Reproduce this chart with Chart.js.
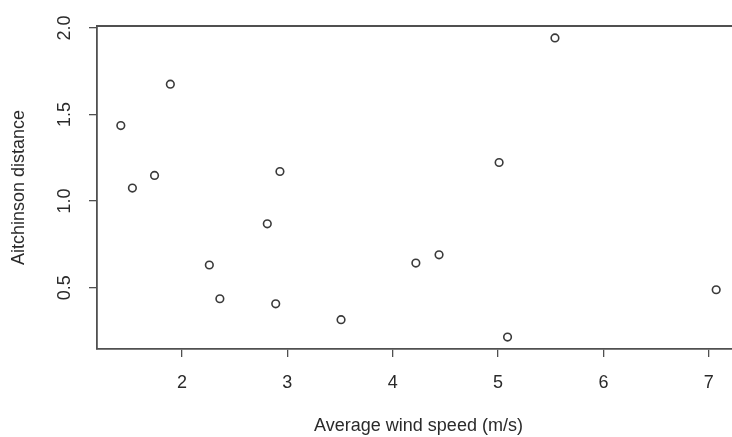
<!DOCTYPE html>
<html>
<head>
<meta charset="utf-8">
<script src="https://cdn.jsdelivr.net/npm/chart.js@4.4.1/dist/chart.umd.min.js"></script>
<style>
  html, body { margin: 0; padding: 0; background: #fff; overflow: hidden; }
  #clip { width: 732px; height: 437px; overflow: hidden; position: relative; }
  #wrap { width: 750px; height: 437px; position: absolute; left: 0; top: 0; }
</style>
</head>
<body>
<div id="clip"><div id="wrap"><canvas id="c"></canvas></div></div>
<script>
// Data
const windSpeed = [1.42, 1.53, 1.74, 1.89, 2.26, 2.36, 2.81, 2.93, 2.89, 3.51, 4.22, 4.44, 5.01, 5.09, 5.54, 7.07];
const aitchison = [1.436, 1.075, 1.148, 1.675, 0.631, 0.436, 0.869, 1.171, 0.407, 0.315, 0.642, 0.69, 1.223, 0.215, 1.942, 0.488];
const xTicks = [2, 3, 4, 5, 6, 7];
const yTicks = [0.5, 1.0, 1.5, 2.0];
const xTitle = 'Average wind speed (m/s)';
const yTitle = 'Aitchinson distance';

// R-style axis limits: data range extended by 4% on each side
function rLim(arr) {
  const lo = Math.min(...arr), hi = Math.max(...arr), d = (hi - lo) * 0.04;
  return [lo - d, hi + d];
}
const [xMin, xMax] = rLim(windSpeed);
const [yMin, yMax] = rLim(aitchison);

const points = windSpeed.map((x, i) => ({ x: x, y: aitchison[i] }));

const FONT = { family: '"Liberation Sans", Arial, Helvetica, sans-serif', size: 18 };
const AXIS = '#505050';
const TEXT = '#2a2a2a';

const topLine = {
  id: 'topLine',
  afterDraw(chart) {
    const { ctx, chartArea: a } = chart;
    ctx.save();
    ctx.strokeStyle = AXIS;
    ctx.lineWidth = 1.8;
    ctx.beginPath();
    ctx.moveTo(a.left, a.top);
    ctx.lineTo(a.right + 2, a.top);
    ctx.stroke();
    ctx.restore();
  }
};

new Chart(document.getElementById('c'), {
  type: 'scatter',
  data: {
    datasets: [{
      data: points,
      pointStyle: 'circle',
      pointRadius: 3.8,
      pointHoverRadius: 3.8,
      borderWidth: 1.6,
      borderColor: '#3a3a3a',
      backgroundColor: 'rgba(0,0,0,0)'
    }]
  },
  options: {
    responsive: true,
    maintainAspectRatio: false,
    animation: false,
    events: [],
    layout: { padding: { left: 0, top: 26, right: 10, bottom: 0 } },
    plugins: { legend: { display: false }, tooltip: { enabled: false } },
    scales: {
      x: {
        type: 'linear',
        min: xMin, max: xMax,
        afterBuildTicks: s => { s.ticks = xTicks.map(v => ({ value: v })); },
        afterFit: s => { s.height = 88; },
        grid: { display: true, drawOnChartArea: false, drawTicks: true, tickLength: 8, color: AXIS, lineWidth: 1.3 },
        border: { display: true, color: AXIS, width: 1.8 },
        ticks: { font: FONT, color: TEXT, padding: 15, maxRotation: 0, autoSkip: false,
                 callback: v => String(v) },
        title: { display: true, text: xTitle, font: FONT, color: TEXT, padding: { top: 0, bottom: 0 } }
      },
      y: {
        type: 'linear',
        min: yMin, max: yMax,
        afterBuildTicks: s => { s.ticks = yTicks.map(v => ({ value: v })); },
        afterFit: s => { s.width = 97; },
        grid: { display: true, drawOnChartArea: false, drawTicks: true, tickLength: 8, color: AXIS, lineWidth: 1.3 },
        border: { display: true, color: AXIS, width: 1.8 },
        ticks: { font: FONT, color: TEXT, padding: 11, minRotation: 90, maxRotation: 90, crossAlign: 'center', autoSkip: false,
                 callback: v => v.toFixed(1) },
        title: { display: true, text: yTitle, font: FONT, color: TEXT, padding: { top: 8, bottom: 0 } }
      }
    }
  },
  plugins: [topLine]
});
</script>
</body>
</html>
